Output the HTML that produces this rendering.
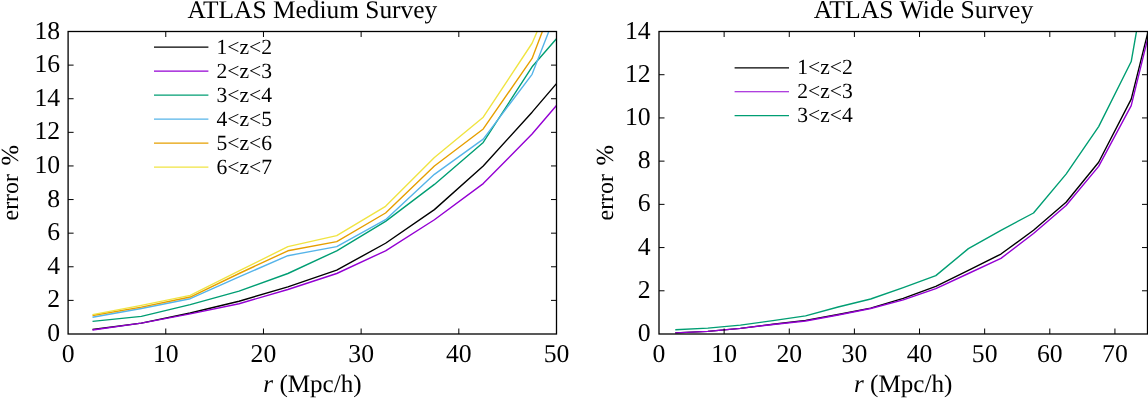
<!DOCTYPE html>
<html><head><meta charset="utf-8"><title>ATLAS Survey</title>
<style>html,body{margin:0;padding:0;background:#fff}body{width:1148px;height:398px;overflow:hidden;font-family:"Liberation Serif",serif}</style></head>
<body>
<svg width="1148" height="398" viewBox="0 0 1148 398" style="display:block;will-change:transform">
<defs><clipPath id="cl"><rect x="68.10" y="31.50" width="488.40" height="302.50"/></clipPath><clipPath id="cr"><rect x="659.00" y="31.50" width="488.50" height="302.50"/></clipPath></defs>
<g font-family="'Liberation Serif', serif" font-size="25.7" fill="#000" text-rendering="geometricPrecision">
<g clip-path="url(#cl)">
<polyline points="92.52,329.46 141.36,323.08 190.20,312.99 239.04,301.23 287.88,286.94 336.72,270.14 385.56,243.25 434.40,209.64 483.24,165.94 532.08,112.17 580.92,55.03" fill="none" stroke="#000000" stroke-width="1.4" stroke-linejoin="round"/>
<polyline points="92.52,329.97 141.36,323.08 190.20,313.83 239.04,303.75 287.88,289.47 336.72,273.50 385.56,250.81 434.40,219.72 483.24,183.59 532.08,134.01 580.92,76.88" fill="none" stroke="#9400d3" stroke-width="1.4" stroke-linejoin="round"/>
<polyline points="92.52,321.40 141.36,316.35 190.20,304.59 239.04,291.15 287.88,273.50 336.72,250.81 385.56,221.40 434.40,184.43 483.24,142.42 532.08,66.79 580.92,10.49" fill="none" stroke="#009e73" stroke-width="1.4" stroke-linejoin="round"/>
<polyline points="92.52,317.19 141.36,308.46 190.20,298.71 239.04,276.86 287.88,255.69 336.72,246.61 385.56,219.72 434.40,174.35 483.24,139.06 532.08,74.35 580.92,-50.85" fill="none" stroke="#56b4e9" stroke-width="1.4" stroke-linejoin="round"/>
<polyline points="92.52,315.51 141.36,307.11 190.20,297.03 239.04,273.50 287.88,250.81 336.72,241.57 385.56,213.00 434.40,165.94 483.24,128.97 532.08,58.39 580.92,-69.33" fill="none" stroke="#e69f00" stroke-width="1.4" stroke-linejoin="round"/>
<polyline points="92.52,314.67 141.36,305.43 190.20,295.35 239.04,270.98 287.88,246.61 336.72,235.69 385.56,206.28 434.40,157.54 483.24,117.21 532.08,43.26 580.92,-69.33" fill="none" stroke="#f0e442" stroke-width="1.4" stroke-linejoin="round"/>
</g><g clip-path="url(#cr)">
<polyline points="675.28,332.92 707.85,331.41 740.42,328.38 772.98,324.28 805.55,320.39 838.12,314.55 870.68,308.07 903.25,298.35 935.82,286.46 968.38,270.26 1000.95,254.05 1033.52,230.29 1066.08,202.20 1098.65,162.22 1131.22,99.13 1163.78,-31.16" fill="none" stroke="#000000" stroke-width="1.4" stroke-linejoin="round"/>
<polyline points="675.28,332.92 707.85,331.41 740.42,328.38 772.98,324.49 805.55,321.04 838.12,314.99 870.68,308.50 903.25,299.86 935.82,288.62 968.38,273.50 1000.95,258.38 1033.52,233.53 1066.08,205.44 1098.65,166.33 1131.22,105.61 1163.78,-26.84" fill="none" stroke="#9400d3" stroke-width="1.4" stroke-linejoin="round"/>
<polyline points="675.28,329.68 707.85,328.17 740.42,325.14 772.98,320.60 805.55,315.85 838.12,306.99 870.68,299.00 903.25,287.54 935.82,275.66 968.38,248.65 1000.95,230.29 1033.52,213.00 1066.08,174.11 1098.65,126.57 1131.22,61.53 1163.78,-124.07" fill="none" stroke="#009e73" stroke-width="1.4" stroke-linejoin="round"/>
</g>
<text x="68.10" y="361.60" text-anchor="middle">0</text>
<path d="M165.78 334.00v-5.50 M165.78 31.50v5.50" stroke="#000" stroke-width="1"/>
<text x="165.78" y="361.60" text-anchor="middle">10</text>
<path d="M263.46 334.00v-5.50 M263.46 31.50v5.50" stroke="#000" stroke-width="1"/>
<text x="263.46" y="361.60" text-anchor="middle">20</text>
<path d="M361.14 334.00v-5.50 M361.14 31.50v5.50" stroke="#000" stroke-width="1"/>
<text x="361.14" y="361.60" text-anchor="middle">30</text>
<path d="M458.82 334.00v-5.50 M458.82 31.50v5.50" stroke="#000" stroke-width="1"/>
<text x="458.82" y="361.60" text-anchor="middle">40</text>
<text x="556.50" y="361.60" text-anchor="middle">50</text>
<text x="60.20" y="341.00" text-anchor="end">0</text>
<path d="M68.10 300.39h5.50 M556.50 300.39h-5.50" stroke="#000" stroke-width="1"/>
<text x="60.20" y="307.39" text-anchor="end">2</text>
<path d="M68.10 266.78h5.50 M556.50 266.78h-5.50" stroke="#000" stroke-width="1"/>
<text x="60.20" y="273.78" text-anchor="end">4</text>
<path d="M68.10 233.17h5.50 M556.50 233.17h-5.50" stroke="#000" stroke-width="1"/>
<text x="60.20" y="240.17" text-anchor="end">6</text>
<path d="M68.10 199.56h5.50 M556.50 199.56h-5.50" stroke="#000" stroke-width="1"/>
<text x="60.20" y="206.56" text-anchor="end">8</text>
<path d="M68.10 165.94h5.50 M556.50 165.94h-5.50" stroke="#000" stroke-width="1"/>
<text x="60.20" y="172.94" text-anchor="end">10</text>
<path d="M68.10 132.33h5.50 M556.50 132.33h-5.50" stroke="#000" stroke-width="1"/>
<text x="60.20" y="139.33" text-anchor="end">12</text>
<path d="M68.10 98.72h5.50 M556.50 98.72h-5.50" stroke="#000" stroke-width="1"/>
<text x="60.20" y="105.72" text-anchor="end">14</text>
<path d="M68.10 65.11h5.50 M556.50 65.11h-5.50" stroke="#000" stroke-width="1"/>
<text x="60.20" y="72.11" text-anchor="end">16</text>
<text x="60.20" y="38.50" text-anchor="end">18</text>
<rect x="68.10" y="31.50" width="488.40" height="302.50" fill="none" stroke="#000" stroke-width="1.3"/>
<text x="659.00" y="361.60" text-anchor="middle">0</text>
<path d="M724.13 334.00v-5.50 M724.13 31.50v5.50" stroke="#000" stroke-width="1"/>
<text x="724.13" y="361.60" text-anchor="middle">10</text>
<path d="M789.27 334.00v-5.50 M789.27 31.50v5.50" stroke="#000" stroke-width="1"/>
<text x="789.27" y="361.60" text-anchor="middle">20</text>
<path d="M854.40 334.00v-5.50 M854.40 31.50v5.50" stroke="#000" stroke-width="1"/>
<text x="854.40" y="361.60" text-anchor="middle">30</text>
<path d="M919.53 334.00v-5.50 M919.53 31.50v5.50" stroke="#000" stroke-width="1"/>
<text x="919.53" y="361.60" text-anchor="middle">40</text>
<path d="M984.67 334.00v-5.50 M984.67 31.50v5.50" stroke="#000" stroke-width="1"/>
<text x="984.67" y="361.60" text-anchor="middle">50</text>
<path d="M1049.80 334.00v-5.50 M1049.80 31.50v5.50" stroke="#000" stroke-width="1"/>
<text x="1049.80" y="361.60" text-anchor="middle">60</text>
<path d="M1114.93 334.00v-5.50 M1114.93 31.50v5.50" stroke="#000" stroke-width="1"/>
<text x="1114.93" y="361.60" text-anchor="middle">70</text>
<text x="650.70" y="341.00" text-anchor="end">0</text>
<path d="M659.00 290.79h5.50 M1147.50 290.79h-5.50" stroke="#000" stroke-width="1"/>
<text x="650.70" y="297.79" text-anchor="end">2</text>
<path d="M659.00 247.57h5.50 M1147.50 247.57h-5.50" stroke="#000" stroke-width="1"/>
<text x="650.70" y="254.57" text-anchor="end">4</text>
<path d="M659.00 204.36h5.50 M1147.50 204.36h-5.50" stroke="#000" stroke-width="1"/>
<text x="650.70" y="211.36" text-anchor="end">6</text>
<path d="M659.00 161.14h5.50 M1147.50 161.14h-5.50" stroke="#000" stroke-width="1"/>
<text x="650.70" y="168.14" text-anchor="end">8</text>
<path d="M659.00 117.93h5.50 M1147.50 117.93h-5.50" stroke="#000" stroke-width="1"/>
<text x="650.70" y="124.93" text-anchor="end">10</text>
<path d="M659.00 74.71h5.50 M1147.50 74.71h-5.50" stroke="#000" stroke-width="1"/>
<text x="650.70" y="81.71" text-anchor="end">12</text>
<text x="650.70" y="38.50" text-anchor="end">14</text>
<rect x="659.00" y="31.50" width="488.50" height="302.50" fill="none" stroke="#000" stroke-width="1.3"/>
<text x="312.4" y="18.1" font-size="25.4" text-anchor="middle">ATLAS Medium Survey</text>
<text x="923.5" y="18.1" text-anchor="middle">ATLAS Wide Survey</text>
<text x="312.5" y="392" font-size="25.1" text-anchor="middle"><tspan font-style="italic">r</tspan> (Mpc/h)</text>
<text x="903.2" y="392" font-size="25.1" text-anchor="middle"><tspan font-style="italic">r</tspan> (Mpc/h)</text>
<text transform="translate(18,220.4) rotate(-90)" font-size="23.8">error</text><text transform="translate(18.2,165.6) rotate(-90)" font-size="24.6">%</text>
<text transform="translate(613.2,220.4) rotate(-90)" font-size="23.8">error</text><text transform="translate(613.4,165.6) rotate(-90)" font-size="24.6">%</text>
<path d="M154 47.20H208.4" stroke="#000000" stroke-width="1.3"/>
<text x="216.5" y="53.80" font-size="21.6">1&lt;z&lt;2</text>
<path d="M154 71.20H208.4" stroke="#9400d3" stroke-width="1.3"/>
<text x="216.5" y="77.80" font-size="21.6">2&lt;z&lt;3</text>
<path d="M154 95.20H208.4" stroke="#009e73" stroke-width="1.3"/>
<text x="216.5" y="101.80" font-size="21.6">3&lt;z&lt;4</text>
<path d="M154 119.20H208.4" stroke="#56b4e9" stroke-width="1.3"/>
<text x="216.5" y="125.80" font-size="21.6">4&lt;z&lt;5</text>
<path d="M154 143.20H208.4" stroke="#e69f00" stroke-width="1.3"/>
<text x="216.5" y="149.80" font-size="21.6">5&lt;z&lt;6</text>
<path d="M154 167.20H208.4" stroke="#f0e442" stroke-width="1.3"/>
<text x="216.5" y="173.80" font-size="21.6">6&lt;z&lt;7</text>
<path d="M734.6 67.80H789" stroke="#000000" stroke-width="1.2"/>
<text x="797.2" y="74.10" font-size="21.6">1&lt;z&lt;2</text>
<path d="M734.6 91.75H789" stroke="#9400d3" stroke-width="1.2"/>
<text x="797.2" y="98.05" font-size="21.6">2&lt;z&lt;3</text>
<path d="M734.6 115.70H789" stroke="#009e73" stroke-width="1.2"/>
<text x="797.2" y="122.00" font-size="21.6">3&lt;z&lt;4</text>
</g></svg>
</body></html>
